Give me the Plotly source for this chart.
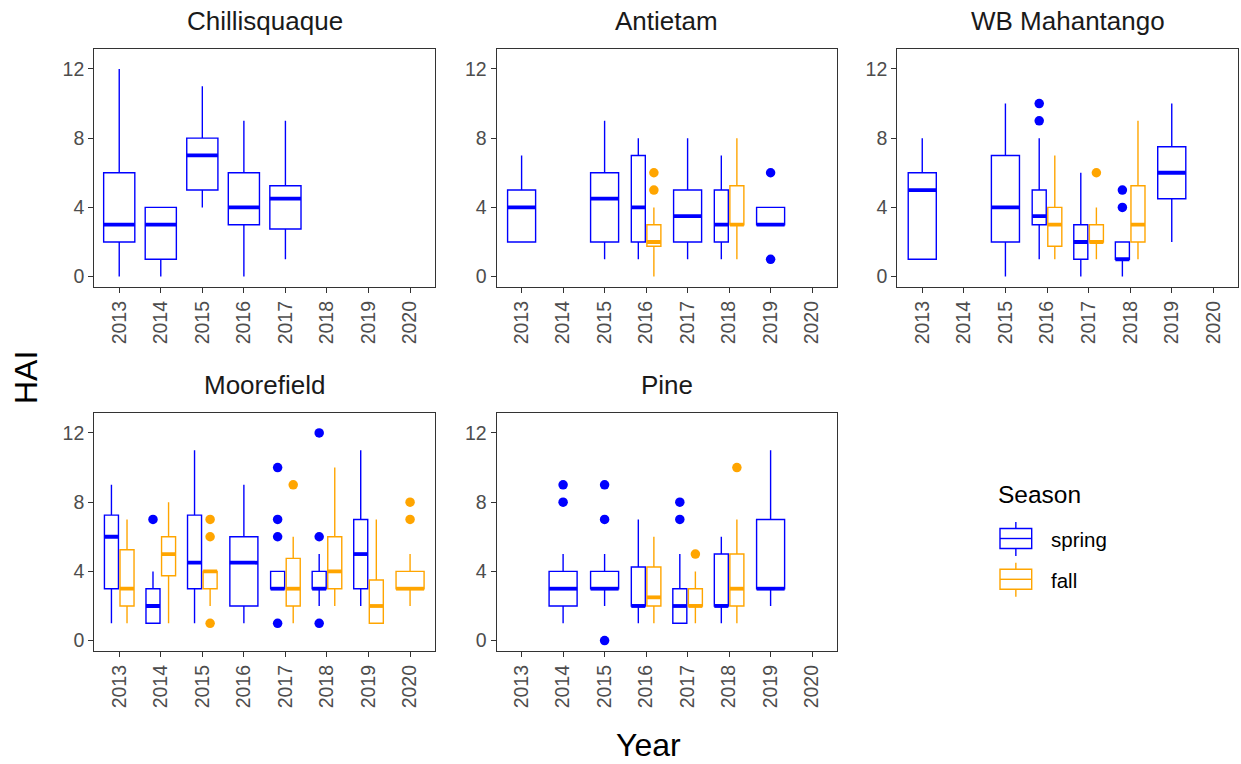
import plotly.graph_objects as go

W, H = 1241, 764
FONT = "Liberation Sans, Arial, sans-serif"
SPRING_COLOR = "#0000FF"
FALL_COLOR = "#FFA500"
AXIS_COLOR = "#333333"
TICK_TEXT = "#4D4D4D"

YEARS = [2013, 2014, 2015, 2016, 2017, 2018, 2019, 2020]
Y_TICKS = [0, 4, 8, 12]
SEASONS = ["spring", "fall"]

# Box statistics per site and season:
# (year, lower whisker, q1, median, q3, upper whisker)
chillisquaque_spring = [
    (2013, 0, 2, 3, 6, 12),
    (2014, 0, 1, 3, 4, 4),
    (2015, 4, 5, 7, 8, 11),
    (2016, 0, 3, 4, 6, 9),
    (2017, 1, 2.75, 4.5, 5.25, 9),
]
chillisquaque_fall = []
chillisquaque_spring_outliers = []
chillisquaque_fall_outliers = []

antietam_spring = [
    (2013, 2, 2, 4, 5, 7),
    (2015, 1, 2, 4.5, 6, 9),
    (2016, 1, 2, 4, 7, 8),
    (2017, 1, 2, 3.5, 5, 8),
    (2018, 1, 2, 3, 5, 7),
    (2019, 3, 3, 3, 4, 4),
]
antietam_fall = [
    (2016, 0, 1.75, 2, 3, 4),
    (2018, 1, 3, 3, 5.25, 8),
]
antietam_spring_outliers = [(2019, 6), (2019, 1)]
antietam_fall_outliers = [(2016, 6), (2016, 5)]

wb_mahantango_spring = [
    (2013, 1, 1, 5, 6, 8),
    (2015, 0, 2, 4, 7, 10),
    (2016, 1, 3, 3.5, 5, 8),
    (2017, 0, 1, 2, 3, 6),
    (2018, 0, 1, 1, 2, 2),
    (2019, 2, 4.5, 6, 7.5, 10),
]
wb_mahantango_fall = [
    (2016, 1, 1.75, 3, 4, 7),
    (2017, 1, 2, 2, 3, 4),
    (2018, 1, 2, 3, 5.25, 9),
]
wb_mahantango_spring_outliers = [(2016, 10), (2016, 9), (2018, 5), (2018, 4)]
wb_mahantango_fall_outliers = [(2017, 6)]

moorefield_spring = [
    (2013, 1, 3, 6, 7.25, 9),
    (2014, 1, 1, 2, 3, 4),
    (2015, 1, 3, 4.5, 7.25, 11),
    (2016, 1, 2, 4.5, 6, 9),
    (2017, 3, 3, 3, 4, 4),
    (2018, 2, 3, 3, 4, 5),
    (2019, 2, 3, 5, 7, 11),
]
moorefield_fall = [
    (2013, 1, 2, 3, 5.25, 7),
    (2014, 1, 3.75, 5, 6, 8),
    (2015, 2, 3, 4, 4, 4),
    (2017, 1, 2, 3, 4.75, 6),
    (2018, 2, 3, 4, 6, 10),
    (2019, 1, 1, 2, 3.5, 7),
    (2020, 2, 3, 3, 4, 5),
]
moorefield_spring_outliers = [(2014, 7), (2017, 10), (2017, 7), (2017, 6), (2017, 1),
                              (2018, 12), (2018, 6), (2018, 1)]
moorefield_fall_outliers = [(2015, 7), (2015, 6), (2015, 1), (2017, 9), (2020, 8), (2020, 7)]

pine_spring = [
    (2014, 1, 2, 3, 4, 5),
    (2015, 2, 3, 3, 4, 5),
    (2016, 1, 2, 2, 4.25, 7),
    (2017, 1, 1, 2, 3, 5),
    (2018, 1, 2, 2, 5, 6),
    (2019, 2, 3, 3, 7, 11),
]
pine_fall = [
    (2016, 1, 2, 2.5, 4.25, 6),
    (2017, 1, 2, 2, 3, 4),
    (2018, 1, 2, 3, 5, 7),
]
pine_spring_outliers = [(2014, 9), (2014, 8), (2015, 9), (2015, 7), (2015, 0), (2017, 8), (2017, 7)]
pine_fall_outliers = [(2018, 10), (2017, 5)]

SITES = [
    ("Chillisquaque", chillisquaque_spring, chillisquaque_fall,
     chillisquaque_spring_outliers, chillisquaque_fall_outliers),
    ("Antietam", antietam_spring, antietam_fall,
     antietam_spring_outliers, antietam_fall_outliers),
    ("WB Mahantango", wb_mahantango_spring, wb_mahantango_fall,
     wb_mahantango_spring_outliers, wb_mahantango_fall_outliers),
    ("Moorefield", moorefield_spring, moorefield_fall,
     moorefield_spring_outliers, moorefield_fall_outliers),
    ("Pine", pine_spring, pine_fall,
     pine_spring_outliers, pine_fall_outliers),
]

# Panel rectangles in pixels: (left, right, top, bottom)
PANELS = [
    (94.3, 435.0, 49.0, 287.0),
    (496.7, 837.0, 49.0, 287.0),
    (897.3, 1238.3, 49.0, 287.0),
    (94.3, 435.0, 413.0, 651.0),
    (496.7, 837.0, 413.0, 651.0),
]

X_RANGE = [0.4, 8.6]
Y_RANGE = [-0.6, 13.15]
FULL_WIDTH = 0.75
PADDING = 0.1


def px_x(v):
    return v / W


def px_y(v):
    return 1 - v / H


fig = go.Figure()
layout_axes = {}
annotations = []

for i, (name, spring, fall, spring_out, fall_out) in enumerate(SITES):
    n = i + 1
    xa = "x" if n == 1 else f"x{n}"
    ya = "y" if n == 1 else f"y{n}"
    left, right, top, bottom = PANELS[i]

    spring_years = {r[0] for r in spring}
    fall_years = {r[0] for r in fall}
    shared = spring_years & fall_years
    pad = (1 - PADDING) if shared else 1.0

    def place(year, season):
        idx = YEARS.index(year) + 1
        if year in shared:
            half = FULL_WIDTH / 2
            off = -half / 2 if season == "spring" else half / 2
            return idx + off, half * pad
        return idx, FULL_WIDTH * pad

    for season, rows, outs, color in (("spring", spring, spring_out, SPRING_COLOR),
                                      ("fall", fall, fall_out, FALL_COLOR)):
        for (year, lo, q1, med, q3, hi) in rows:
            xpos, w = place(year, season)
            fig.add_trace(go.Box(
                x=[xpos], q1=[q1], median=[med], q3=[q3],
                lowerfence=[lo], upperfence=[hi],
                width=w, whiskerwidth=0, boxpoints=False,
                line=dict(color=color, width=1.4),
                fillcolor="rgba(255,255,255,0)",
                showlegend=False, hoverinfo="skip",
                xaxis=xa, yaxis=ya,
            ))
            # thicker median bar
            fig.add_trace(go.Scatter(
                x=[xpos - w / 2, xpos + w / 2], y=[med, med],
                mode="lines", line=dict(color=color, width=3.8),
                showlegend=False, hoverinfo="skip",
                xaxis=xa, yaxis=ya,
            ))
        if outs:
            ox = [place(y, season)[0] for (y, v) in outs]
            oy = [v for (y, v) in outs]
            fig.add_trace(go.Scatter(
                x=ox, y=oy, mode="markers",
                marker=dict(color=color, size=9.5, line=dict(width=0)),
                showlegend=False, hoverinfo="skip",
                xaxis=xa, yaxis=ya,
            ))

    axis_common = dict(
        showline=True, linecolor=AXIS_COLOR, linewidth=1.3, mirror=True,
        ticks="outside", ticklen=5, tickwidth=1.3, tickcolor=AXIS_COLOR,
        showgrid=False, zeroline=False, fixedrange=True,
        tickfont=dict(family=FONT, size=19.5, color=TICK_TEXT),
    )
    layout_axes["xaxis" if n == 1 else f"xaxis{n}"] = dict(
        axis_common, domain=[px_x(left), px_x(right)], anchor=ya,
        range=X_RANGE, tickmode="array",
        tickvals=list(range(1, len(YEARS) + 1)),
        ticktext=[str(y) for y in YEARS], tickangle=-90,
    )
    layout_axes["yaxis" if n == 1 else f"yaxis{n}"] = dict(
        axis_common, domain=[px_y(bottom), px_y(top)], anchor=xa,
        range=Y_RANGE, tickmode="array", tickvals=Y_TICKS,
        ticktext=[str(t) for t in Y_TICKS],
    )
    # facet strip title above each panel
    annotations.append(dict(
        text=name, xref="paper", yref="paper",
        x=px_x((left + right) / 2), y=px_y(top - 28),
        xanchor="center", yanchor="middle", showarrow=False,
        font=dict(family=FONT, size=26, color="#1A1A1A"),
    ))

# Axis titles
annotations.append(dict(
    text="Year", xref="paper", yref="paper", x=px_x(648), y=px_y(745),
    xanchor="center", yanchor="middle", showarrow=False,
    font=dict(family=FONT, size=32, color="black"),
))
annotations.append(dict(
    text="HAI", xref="paper", yref="paper", x=px_x(26), y=px_y(378),
    xanchor="center", yanchor="middle", showarrow=False, textangle=-90,
    font=dict(family=FONT, size=32, color="black"),
))

# Legend: title, keys and labels
annotations.append(dict(
    text="Season", xref="paper", yref="paper", x=px_x(996), y=px_y(494),
    xanchor="left", yanchor="middle", showarrow=False,
    font=dict(family=FONT, size=24.5, color="black"),
))
shapes = []
legend_keys = [("spring", SPRING_COLOR, 538.5), ("fall", FALL_COLOR, 579.3)]
for label, color, cy in legend_keys:
    kx0, kx1 = 1000.0, 1031.7
    kxm = (kx0 + kx1) / 2
    line = dict(color=color, width=1.4)
    shapes.append(dict(type="rect", xref="paper", yref="paper",
                       x0=px_x(kx0), x1=px_x(kx1), y0=px_y(cy - 10), y1=px_y(cy + 10),
                       line=line, fillcolor="white"))
    shapes.append(dict(type="line", xref="paper", yref="paper",
                       x0=px_x(kx0), x1=px_x(kx1), y0=px_y(cy), y1=px_y(cy), line=line))
    shapes.append(dict(type="line", xref="paper", yref="paper",
                       x0=px_x(kxm), x1=px_x(kxm), y0=px_y(cy - 16.5), y1=px_y(cy - 10), line=line))
    shapes.append(dict(type="line", xref="paper", yref="paper",
                       x0=px_x(kxm), x1=px_x(kxm), y0=px_y(cy + 10), y1=px_y(cy + 17.5), line=line))
    annotations.append(dict(
        text=label, xref="paper", yref="paper", x=px_x(1049), y=px_y(cy + 1),
        xanchor="left", yanchor="middle", showarrow=False,
        font=dict(family=FONT, size=20.5, color="black"),
    ))

fig.update_layout(
    width=W, height=H,
    margin=dict(l=0, r=0, t=0, b=0),
    paper_bgcolor="white", plot_bgcolor="white",
    showlegend=False,
    annotations=annotations,
    shapes=shapes,
    **layout_axes,
)

fig.write_html("out.html")
